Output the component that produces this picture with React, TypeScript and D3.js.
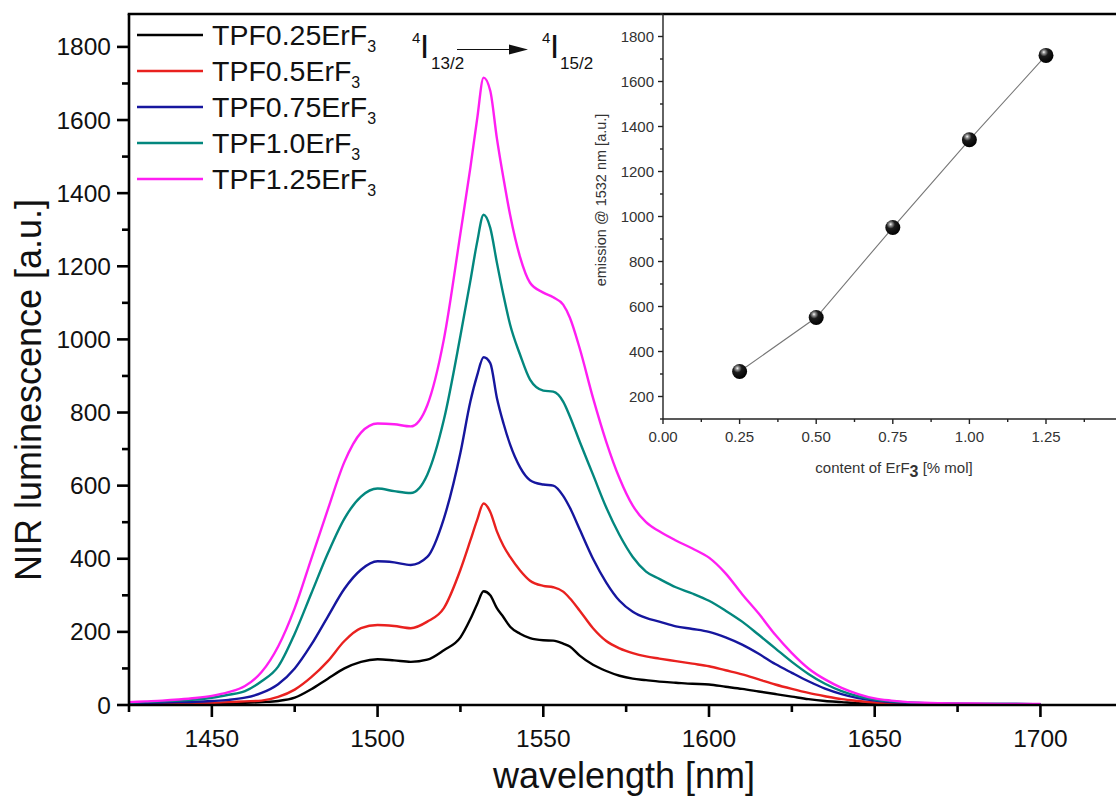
import React from "react";
import * as d3 from "d3";

// ---- main spectrum data ----
const wavelengths = [1425,1430,1435,1440,1445,1450,1455,1460,1465,1470,1475,1480,1485,1490,1495,1500,1505,1510,1515,1520,1525,1528,1530,1532,1534,1536,1538,1540,1543,1546,1550,1553,1556,1558,1561,1565,1569,1573,1577,1581,1585,1590,1595,1600,1605,1610,1615,1620,1625,1630,1635,1640,1645,1650,1655,1660,1665,1670,1680,1690,1700];

const tpf025 = [2,2,2,3,3,4,5,6,8,11,20,43,72,100,118,125,122,118,124,150,185,235,275,311,300,265,240,214,195,183,177,176,168,160,135,110,93,80,72,68,64,61,58,56,50,44,37,30,23,16,11,8,5,4,3,2,2,1,1,1,1];
const tpf05 = [3,3,4,4,5,6,8,10,12,22,42,76,120,175,210,219,216,210,228,265,370,450,505,551,528,475,435,405,368,340,326,322,310,292,258,210,175,155,142,133,127,120,113,106,95,84,70,56,44,33,24,16,11,7,5,4,3,3,2,2,2];
const tpf075 = [5,6,7,8,9,11,14,20,33,57,100,165,242,318,370,393,390,383,405,510,690,830,900,951,935,840,770,712,650,615,603,600,572,540,480,400,335,285,255,238,228,215,208,200,185,165,140,112,88,65,45,30,19,12,8,6,5,4,3,3,2];
const tpf10 = [6,8,10,12,15,20,28,38,65,105,195,305,415,510,570,592,585,580,630,780,1010,1160,1264,1341,1305,1210,1120,1040,958,890,860,857,830,790,720,630,540,465,405,365,345,322,305,285,258,228,192,155,118,85,58,38,24,15,10,7,5,4,3,3,2];
const tpf125 = [8,10,12,15,19,25,35,52,90,160,265,400,535,665,745,770,768,762,820,1000,1290,1470,1600,1716,1680,1550,1440,1340,1225,1155,1128,1115,1095,1060,975,840,720,620,545,500,475,450,428,403,360,303,250,192,142,100,70,47,30,18,12,8,6,5,4,3,3];

const seriesLabels = ["TPF0.25ErF", "TPF0.5ErF", "TPF0.75ErF", "TPF1.0ErF", "TPF1.25ErF"];
const seriesColors = ["#000000", "#e9211f", "#16169e", "#03877e", "#ff1ef2"];
const seriesValues = [tpf025, tpf05, tpf075, tpf10, tpf125];

const xTickValues = [1450, 1500, 1550, 1600, 1650, 1700];
const yTickValues = [0, 200, 400, 600, 800, 1000, 1200, 1400, 1600, 1800];

// ---- inset data ----
const insetContent = [0.25, 0.5, 0.75, 1.0, 1.25];
const insetEmission = [311, 551, 951, 1341, 1716];
const insetXTicks = [0, 0.25, 0.5, 0.75, 1.0, 1.25];
const insetYTicks = [200, 400, 600, 800, 1000, 1200, 1400, 1600, 1800];

const FONT = "'Liberation Sans', Arial, Helvetica, sans-serif";

export default function App() {
  const W = 1116, H = 804;
  const x = d3.scaleLinear().domain([1425, 1722.8]).range([129, 1116]);
  const y = d3.scaleLinear().domain([0, 1890]).range([705, 14]);

  const ix = d3.scaleLinear().domain([0, 1.5]).range([663, 1122.6]);
  const iy = d3.scaleLinear().domain([100, 1900]).range([419, 14]);

  const line = d3
    .line<number>()
    .x((_, i) => x(wavelengths[i]))
    .y((d) => y(d))
    .curve(d3.curveMonotoneX);

  const insetLine = d3
    .line<number>()
    .x((_, i) => ix(insetContent[i]))
    .y((d) => iy(d));

  const xMinor = d3.range(1425, 1725, 25).filter((v) => v % 50 !== 0);
  const yMinor = d3.range(100, 1900, 200);
  const ixMinor = d3.range(0.125, 1.5, 0.25);
  const iyMinor = d3.range(100, 1901, 200);

  const y0 = y(0);
  const axisW = 2.6;

  return (
    <svg
      width={W}
      height={H}
      style={{ position: "absolute", left: 0, top: 0, background: "#fff" }}
      fontFamily={FONT}
    >
      <defs>
        <radialGradient id="ball" cx="38%" cy="32%" r="70%" fx="35%" fy="28%">
          <stop offset="0%" stopColor="#ffffff" />
          <stop offset="14%" stopColor="#9a9a9a" />
          <stop offset="40%" stopColor="#1c1c1c" />
          <stop offset="100%" stopColor="#000000" />
        </radialGradient>
      </defs>
      <rect x={0} y={0} width={W} height={H} fill="#fff" />

      {/* spectra */}
      <g fill="none" strokeWidth={2.4} strokeLinejoin="round">
        {seriesValues.map((vals, k) => (
          <path key={k} d={line(vals) || ""} stroke={seriesColors[k]} />
        ))}
      </g>

      {/* main axes */}
      <g stroke="#000" strokeWidth={axisW} fill="none">
        <line x1={129} x2={1116} y1={y0} y2={y0} />
        <line x1={129} x2={129} y1={y0 + 1} y2={14} />
        <line x1={127.7} x2={1116} y1={14} y2={14} />
        {xTickValues.map((v) => (
          <line key={"xt" + v} x1={x(v)} x2={x(v)} y1={y0} y2={y0 + 12} />
        ))}
        {xMinor.map((v) => (
          <line key={"xm" + v} x1={x(v)} x2={x(v)} y1={y0} y2={y0 + 7} />
        ))}
        {yTickValues.map((v) => (
          <line key={"yt" + v} x1={129} x2={117} y1={y(v)} y2={y(v)} />
        ))}
        {yMinor.map((v) => (
          <line key={"ym" + v} x1={129} x2={122} y1={y(v)} y2={y(v)} />
        ))}
      </g>
      <g fontSize={24.5} fill="#111">
        {xTickValues.map((v) => (
          <text key={"xl" + v} x={x(v)} y={747} textAnchor="middle">
            {v}
          </text>
        ))}
        {yTickValues.map((v) => (
          <text key={"yl" + v} x={111} y={y(v) + 8.5} textAnchor="end">
            {v}
          </text>
        ))}
      </g>
      <text x={624} y={788} fontSize={36} textAnchor="middle" fill="#111">
        wavelength [nm]
      </text>
      <text
        transform="translate(41,390) rotate(-90)"
        fontSize={36}
        textAnchor="middle"
        fill="#111"
      >
        NIR luminescence [a.u.]
      </text>

      {/* legend */}
      {seriesLabels.map((lab, k) => {
        const cy = 35 + k * 36;
        return (
          <g key={"lg" + k}>
            <line x1={137} x2={203} y1={cy} y2={cy} stroke={seriesColors[k]} strokeWidth={2.6} />
            <text x={212} y={cy + 10} fontSize={28.5} fill="#111">
              {lab}
              <tspan fontSize={16} dy={7}>3</tspan>
            </text>
          </g>
        );
      })}

      {/* transition annotation */}
      <g fill="#111">
        <text x={412} y={43} fontSize={15}>4</text>
        <text x={420} y={58} fontSize={33}>I</text>
        <text x={431} y={69} fontSize={17}>13/2</text>
        <line x1={457} x2={515} y1={49.5} y2={49.5} stroke="#111" strokeWidth={1.2} />
        <path d="M509,44.5 L528,49.5 L509,54.5 Z" fill="#111" />
        <text x={542} y={43} fontSize={15}>4</text>
        <text x={550} y={58} fontSize={33}>I</text>
        <text x={560} y={69} fontSize={17}>15/2</text>
      </g>

      {/* inset */}
      <g stroke="#222" strokeWidth={1.4} fill="none">
        <line x1={663} x2={1116} y1={419} y2={419} />
        <line x1={663} x2={663} y1={419} y2={14} />
        {insetXTicks.map((v) => (
          <line key={"ixt" + v} x1={ix(v)} x2={ix(v)} y1={419} y2={424} />
        ))}
        {ixMinor.map((v) => (
          <line key={"ixm" + v} x1={ix(v)} x2={ix(v)} y1={419} y2={422} />
        ))}
        {insetYTicks.map((v) => (
          <line key={"iyt" + v} x1={663} x2={658} y1={iy(v)} y2={iy(v)} />
        ))}
        {iyMinor.map((v) => (
          <line key={"iym" + v} x1={663} x2={660} y1={iy(v)} y2={iy(v)} />
        ))}
      </g>
      <g fontSize={15} fill="#333">
        {insetXTicks.map((v) => (
          <text key={"ixl" + v} x={ix(v)} y={442} textAnchor="middle">
            {v.toFixed(2)}
          </text>
        ))}
        {insetYTicks.map((v) => (
          <text key={"iyl" + v} x={654} y={iy(v) + 5.5} textAnchor="end">
            {v}
          </text>
        ))}
      </g>
      <text x={894} y={473} fontSize={15} textAnchor="middle" fill="#333">
        content of ErF
        <tspan fontWeight="bold" fontSize={16} dy={4}>3</tspan>
        <tspan dy={-4}> [% mol]</tspan>
      </text>
      <text
        transform="translate(606,200) rotate(-90)"
        fontSize={14.5}
        textAnchor="middle"
        fill="#333"
      >
        emission @ 1532 nm [a.u.]
      </text>
      <path d={insetLine(insetEmission) || ""} fill="none" stroke="#777" strokeWidth={1.1} />
      {insetEmission.map((v, i) => (
        <circle key={"pt" + i} cx={ix(insetContent[i])} cy={iy(v)} r={7.5} fill="url(#ball)" />
      ))}
    </svg>
  );
}
